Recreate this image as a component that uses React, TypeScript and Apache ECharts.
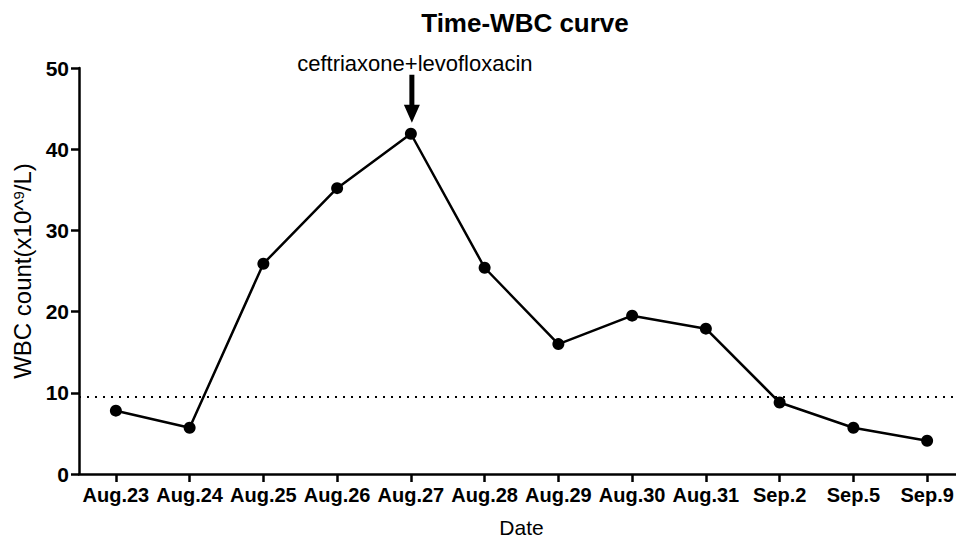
import React, { useEffect, useRef } from "react";
import * as echarts from "echarts";

const categories = ["Aug.23", "Aug.24", "Aug.25", "Aug.26", "Aug.27", "Aug.28", "Aug.29", "Aug.30", "Aug.31", "Sep.2", "Sep.5", "Sep.9"];
const wbcValues = [7.8, 5.7, 25.9, 35.2, 41.9, 25.4, 16.0, 19.5, 17.9, 8.8, 5.7, 4.1];
const referenceValue = [9.5];
const annotationIndex = [4];
const annotationText = ["ceftriaxone+levofloxacin"];
const yMin = 0;
const yMax = 50;
const yInterval = 10;

const FONT = "'Liberation Sans', Arial, Helvetica, sans-serif";

export default function App() {
  const ref = useRef<HTMLDivElement>(null);
  useEffect(() => {
    if (!ref.current) return;
    document.body.style.margin = "0";
    document.body.style.overflow = "hidden";
    const chart = echarts.init(ref.current, undefined, { renderer: "svg" });
    const ai = annotationIndex[0];
    chart.setOption({
      animation: false,
      backgroundColor: "#ffffff",
      textStyle: { fontFamily: FONT, color: "#000" },
      title: {
        text: "Time-WBC curve",
        left: 525,
        top: 10,
        padding: 0,
        textAlign: "center",
        textStyle: { fontFamily: FONT, fontSize: 26, fontWeight: "bold", color: "#000" },
      },
      grid: { left: 79, top: 68, width: 885, height: 406, containLabel: false, outerBoundsMode: "none" },
      xAxis: {
        type: "category",
        data: categories,
        boundaryGap: true,
        name: "Date",
        nameLocation: "middle",
        nameGap: 42,
        nameTextStyle: { fontFamily: FONT, fontSize: 21, lineHeight: 22, color: "#000" },
        axisLine: { show: true, lineStyle: { color: "#000", width: 2.5 } },
        axisTick: { show: true, alignWithLabel: true, length: 8, lineStyle: { color: "#000", width: 2.5 } },
        axisLabel: { interval: 0, margin: 11, fontFamily: FONT, fontSize: 20, fontWeight: "bold", color: "#000" },
        splitLine: { show: false },
      },
      yAxis: {
        type: "value",
        min: yMin,
        max: yMax,
        interval: yInterval,
        name: "WBC count(x10^{sup|9}/L)",
        nameLocation: "middle",
        nameGap: 40,
        nameTextStyle: {
          fontFamily: FONT,
          fontSize: 24,
          color: "#000",
          rich: {
            sup: { fontFamily: FONT, fontSize: 15, color: "#000", verticalAlign: "top", padding: [0, 0, 9, 0] },
          },
        },
        axisLine: { show: true, lineStyle: { color: "#000", width: 2.5 } },
        axisTick: { show: true, length: 8, lineStyle: { color: "#000", width: 2.5 } },
        axisLabel: { margin: 10, fontFamily: FONT, fontSize: 21, fontWeight: "bold", color: "#000" },
        splitLine: { show: false },
      },
      series: [
        {
          type: "line",
          data: wbcValues,
          symbol: "circle",
          symbolSize: 12,
          itemStyle: { color: "#000" },
          lineStyle: { color: "#000", width: 2.5 },
          markLine: {
            silent: true,
            symbol: "none",
            label: { show: false },
            lineStyle: { color: "#000", width: 2, type: [2, 6] },
            data: [{ yAxis: referenceValue[0] }],
          },
          markPoint: {
            silent: true,
            symbol: "path://M5.5,0 L10.5,0 L10.5,30 L16,30 L8,48 L0,30 L5.5,30 Z",
            symbolSize: [16, 48],
            symbolOffset: [1, -35],
            itemStyle: { color: "#000" },
            label: {
              show: true,
              position: "top",
              distance: 0,
              offset: [3, 0],
              formatter: annotationText[0],
              fontFamily: FONT,
              fontSize: 22,
              color: "#000",
            },
            data: [{ coord: [categories[ai], wbcValues[ai]] }],
          },
        },
      ],
    });
    return () => chart.dispose();
  }, []);
  return <div ref={ref} style={{ position: "absolute", left: 0, top: 0, width: 956, height: 538, overflow: "hidden" }} />;
}
